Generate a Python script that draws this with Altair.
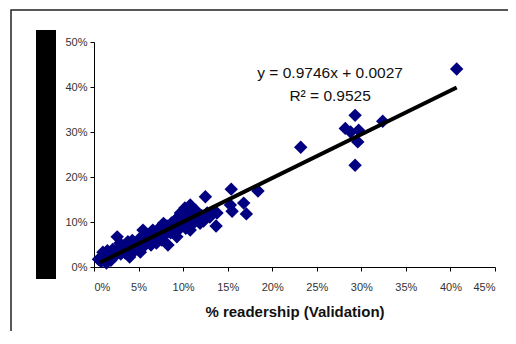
import altair as alt
import pandas as pd

# Scatter data (% readership): x = validation, y = model
xs = [0.5, 0.8, 1.0, 1.1, 1.3, 1.4, 1.5, 1.6, 1.8, 1.9, 2.0, 2.1, 2.3, 2.5, 2.6, 2.7, 2.9, 3.0,
      3.2, 3.3, 3.5, 3.6, 3.8, 3.9, 4.0, 4.2, 4.3, 4.5, 4.6, 4.8, 5.0, 5.1, 5.2, 5.4, 5.5, 5.6,
      5.8, 6.0, 6.1, 6.3, 6.4, 6.6, 6.7, 6.9, 7.0, 7.2, 7.3, 7.5, 7.6, 7.8, 7.9, 8.0, 8.2, 8.3,
      8.4, 8.6, 8.7, 8.9, 9.0, 9.1, 9.3, 9.4, 9.5, 9.6, 9.7, 9.8, 10.0, 10.1, 10.2, 10.3, 10.5,
      10.6, 10.8, 10.8, 11.0, 11.2, 11.4, 11.6, 11.9, 12.1, 12.3, 12.5, 12.7, 13.0, 13.4, 13.8,
      13.7, 15.4, 15.3, 15.5, 16.8, 17.1, 18.4, 23.2, 28.2, 28.8, 29.3, 29.7, 29.6, 29.3, 32.4,
      40.7]
ys = [1.7, 1.2, 3.3, 2.5, 1.8, 0.9, 3.6, 2.2, 3.1, 1.5, 2.8, 3.9, 2.4, 3.4, 6.7, 4.1, 5.3, 2.9,
      3.7, 4.6, 3.1, 5.0, 5.6, 3.8, 2.2, 4.4, 5.9, 3.5, 4.8, 5.4, 4.2, 6.3, 3.3, 5.7, 8.2, 4.6,
      6.8, 5.5, 7.2, 6.1, 4.9, 8.2, 6.6, 7.5, 5.3, 6.9, 8.6, 7.1, 6.0, 9.7, 8.0, 7.2, 9.1, 4.9,
      8.3, 7.6, 9.8, 8.7, 7.8, 10.4, 6.7, 9.2, 11.1, 8.5, 12.0, 10.0, 9.3, 11.6, 13.1, 8.6, 10.5,
      12.4, 13.8, 8.2, 11.2, 9.8, 12.6, 10.6, 9.7, 11.4, 10.2, 15.6, 12.0, 11.1, 12.3, 12.0,
      9.1, 17.3, 13.8, 12.4, 14.2, 11.8, 16.9, 26.6, 30.8, 30.0, 33.7, 30.4, 27.8, 22.6, 32.4,
      44.0]

# Trend line end points
trend_x = [0.7, 40.7]
trend_y = [1.0, 39.9]

# Annotation
ann_text = ["y = 0.9746x + 0.0027", "R² = 0.9525"]
ann_x = [26.5, 26.5]
ann_y = [43.2, 37.9]

x_ticks = [0, 5, 10, 15, 20, 25, 30, 35, 40, 45]
y_ticks = [0, 10, 20, 30, 40, 50]

pts = pd.DataFrame({"x": xs, "y": ys})
trend = pd.DataFrame({"x": trend_x, "y": trend_y})
ann = pd.DataFrame({"x": ann_x, "y": ann_y, "t": ann_text})
one = pd.DataFrame({"a": [0]})

FONT = "Liberation Sans"

xscale = alt.Scale(domain=[0, 45], nice=False, zero=True)
yscale = alt.Scale(domain=[0, 50], nice=False, zero=True)

xaxis = alt.Axis(values=x_ticks, labelExpr="datum.value + '%'", title="% readership (Validation)",
                 grid=False, domainColor="#000", tickColor="#000", tickSize=4,
                 labelFont=FONT, labelFontSize=11, labelColor="#333", labelPadding=10,
                 titleFont=FONT, titleFontSize=15, titleFontWeight="bold", titleColor="#111",
                 titlePadding=12)
yaxis = alt.Axis(values=y_ticks, labelExpr="datum.value + '%'", title=None,
                 grid=False, domainColor="#000", tickColor="#000", tickSize=4,
                 labelFont=FONT, labelFontSize=11, labelColor="#333", labelPadding=3)

frame = alt.Chart(one).mark_rect(fill="transparent", stroke="#222", strokeWidth=1.5).encode(
    x=alt.value(-83), x2=alt.value(440), y=alt.value(-32), y2=alt.value(320))

bar = alt.Chart(one).mark_rect(fill="black").encode(
    x=alt.value(-58), x2=alt.value(-38), y=alt.value(-12), y2=alt.value(237))

points = alt.Chart(pts).mark_point(shape="diamond", filled=True, color="#000080",
                                   size=180, opacity=1).encode(
    x=alt.X("x:Q", scale=xscale, axis=xaxis),
    y=alt.Y("y:Q", scale=yscale, axis=yaxis))

line = alt.Chart(trend).mark_line(color="black", strokeWidth=4).encode(
    x=alt.X("x:Q", scale=xscale), y=alt.Y("y:Q", scale=yscale))

text = alt.Chart(ann).mark_text(font=FONT, fontSize=15.5, color="#111", align="center",
                                baseline="middle").encode(
    x=alt.X("x:Q", scale=xscale), y=alt.Y("y:Q", scale=yscale), text="t:N")

chart = alt.layer(frame, bar, points, line, text).properties(
    width=401, height=225,
    padding={"left": 86, "top": 34, "right": 13, "bottom": 64},
    autosize=alt.AutoSizeParams(type="none"),
).configure_view(stroke=None)

chart.save("out.html", embed_options={"renderer": "svg", "actions": False})
